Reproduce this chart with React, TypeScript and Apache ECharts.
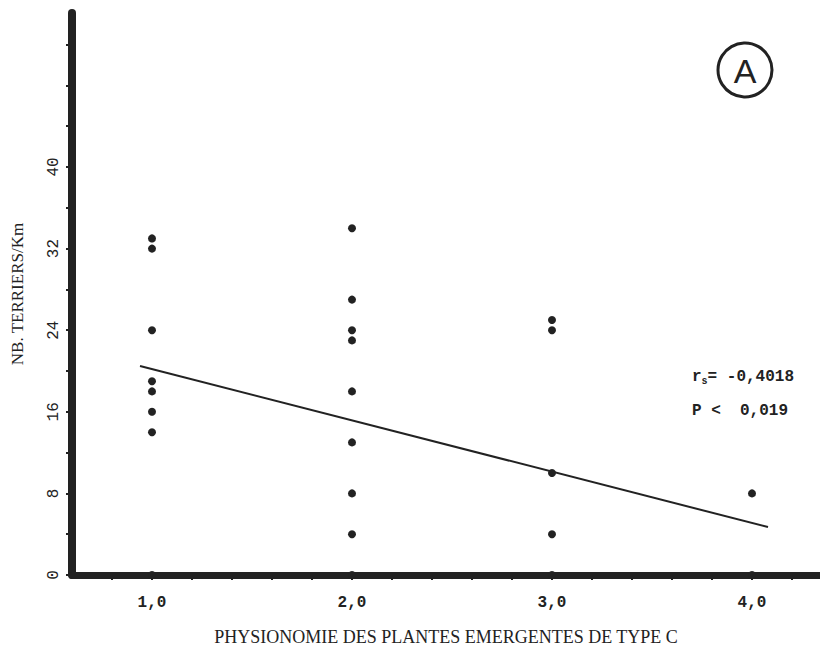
import React, { useEffect, useRef } from "react";
import * as echarts from "echarts";

const physio1 = [33, 32, 24, 19, 18, 16, 14, 0];
const physio2 = [34, 27, 24, 23, 18, 13, 8, 4, 0];
const physio3 = [25, 24, 10, 4, 0];
const physio4 = [8, 0];
const groupX = [1, 2, 3, 4];
const regressionLine: [number, number][] = [
  [0.94, 20.5],
  [4.08, 4.7],
];
const yLabelValues = [0, 8, 16, 24, 32, 40];
const xLabelValues = [1, 2, 3, 4];
const xTitle = "PHYSIONOMIE DES PLANTES EMERGENTES DE TYPE C";
const yTitle = "NB. TERRIERS/Km";
const rsText = "-0,4018";
const pText = "0,019";

const INK = "#222222";
const MONO = "'Liberation Mono', 'DejaVu Sans Mono', monospace";
const SERIF = "'Liberation Serif', 'DejaVu Serif', serif";

export default function App() {
  const ref = useRef<HTMLDivElement>(null);
  useEffect(() => {
    if (!ref.current) return;
    const chart = echarts.init(ref.current, undefined, { renderer: "svg" });
    const groups = [physio1, physio2, physio3, physio4];
    const points: [number, number][] = [];
    groups.forEach((g, i) => g.forEach((v) => points.push([groupX[i], v])));
    chart.setOption({
      animation: false,
      backgroundColor: "#ffffff",
      grid: { left: 72, right: 0, top: 13, bottom: 75, outerBoundsMode: "none", containLabel: false },
      xAxis: {
        type: "value",
        min: 0.6,
        max: 4.34,
        interval: 0.2,
        splitLine: { show: false },
        axisLine: { show: true, lineStyle: { color: INK, width: 7, cap: "round" } },
        axisTick: { show: true, length: 5, lineStyle: { color: INK, width: 2 } },
        axisLabel: {
          margin: 20,
          color: INK,
          fontFamily: MONO,
          fontSize: 16,
          fontWeight: "bold",
          showMinLabel: false,
          showMaxLabel: false,
          formatter: (v: number) => {
            const r = Math.round(v);
            if (Math.abs(v - r) < 1e-6 && xLabelValues.includes(r)) return r.toFixed(1).replace(".", ",");
            return "";
          },
        },
        name: xTitle,
        nameLocation: "middle",
        nameGap: 53,
        nameTextStyle: { color: INK, fontFamily: SERIF, fontSize: 18 },
      },
      yAxis: {
        type: "value",
        min: 0,
        max: 55.1,
        interval: 4,
        splitLine: { show: false },
        axisLine: { show: true, lineStyle: { color: INK, width: 8, cap: "round" } },
        axisTick: { show: true, length: 6, lineStyle: { color: INK, width: 2 } },
        axisLabel: {
          rotate: 90,
          margin: 10,
          color: INK,
          fontFamily: MONO,
          fontSize: 16,
          showMaxLabel: false,
          formatter: (v: number) => {
            const r = Math.round(v);
            if (Math.abs(v - r) < 1e-6 && yLabelValues.includes(r)) return String(r);
            return "";
          },
        },
        name: yTitle,
        nameLocation: "middle",
        nameRotate: 90,
        nameGap: 46,
        nameTextStyle: { color: INK, fontFamily: SERIF, fontSize: 17 },
      },
      series: [
        {
          type: "line",
          data: regressionLine,
          showSymbol: false,
          symbol: "none",
          lineStyle: { color: INK, width: 2 },
          z: 2,
        },
        {
          type: "scatter",
          data: points,
          symbol: "circle",
          symbolSize: 8,
          itemStyle: { color: INK, opacity: 1 },
          z: 3,
        },
      ],
      graphic: [
        {
          type: "circle",
          shape: { cx: 745, cy: 70, r: 27 },
          style: { fill: "none", stroke: INK, lineWidth: 3 },
        },
        {
          type: "text",
          x: 745,
          y: 71,
          style: {
            text: "A",
            fill: INK,
            font: "normal 34px 'Liberation Sans', sans-serif",
            align: "center",
            verticalAlign: "middle",
          },
        },
        {
          type: "text",
          x: 692,
          y: 377,
          style: {
            text: "{r|r}{s|s}{r|= " + rsText + "}",
            verticalAlign: "middle",
            rich: {
              r: { fontFamily: MONO, fontSize: 16, fontWeight: "bold", fill: INK, color: INK },
              s: { fontFamily: MONO, fontSize: 10, fontWeight: "bold", fill: INK, color: INK, padding: [8, 0, 0, 0] },
            },
          },
        },
        {
          type: "text",
          x: 692,
          y: 411,
          style: {
            text: "P < " + " " + pText,
            fill: INK,
            font: "bold 16px " + MONO,
            verticalAlign: "middle",
          },
        },
      ],
    });
    return () => chart.dispose();
  }, []);
  return (
    <div
      ref={ref}
      style={{ position: "absolute", left: 0, top: 0, width: 820, height: 650 }}
    />
  );
}
